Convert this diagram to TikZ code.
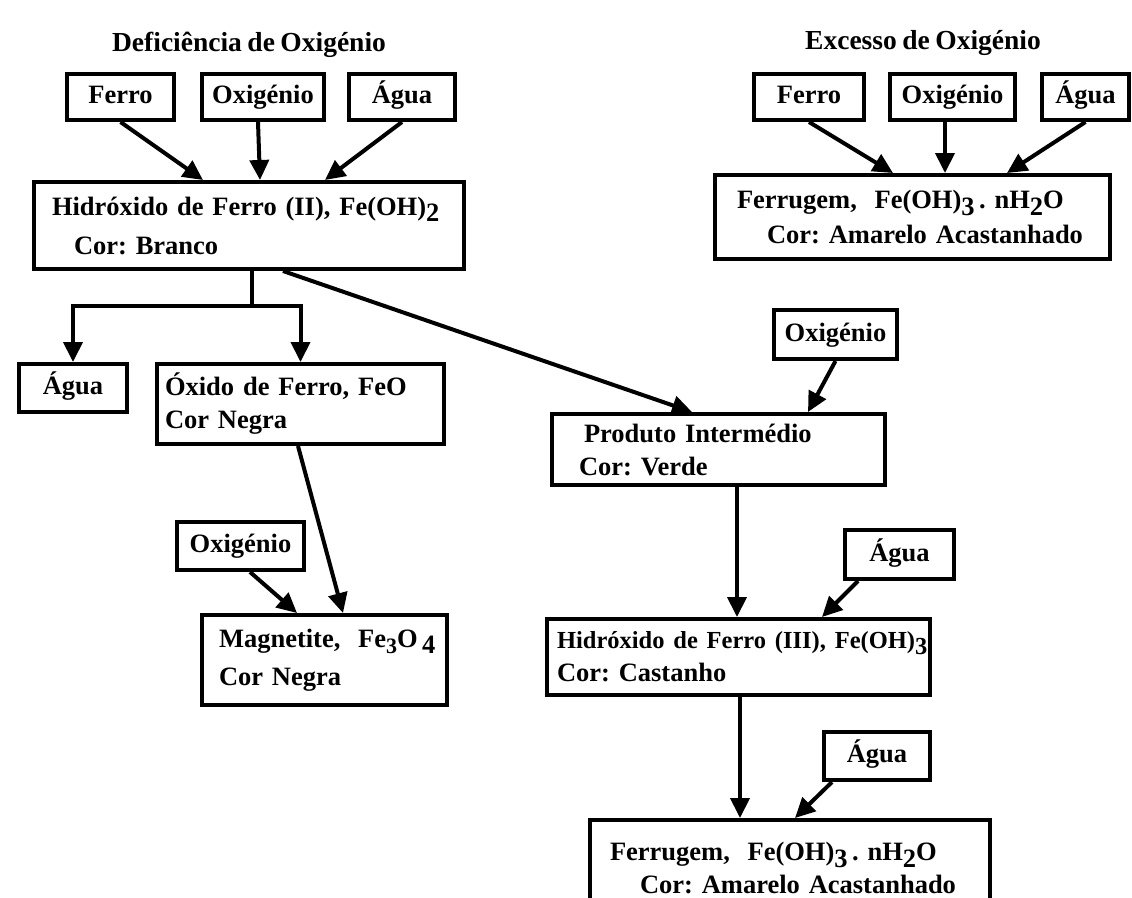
\documentclass[tikz,border=0pt]{standalone}
\usepackage{fontspec}
\setmainfont{Liberation Serif}[WordSpace=0.8]
\usetikzlibrary{arrows.meta}

\newcommand{\lowsub}[1]{\raisebox{-0.25em}{#1}}

\tikzset{
    box/.style={draw, line width=4pt, anchor=north west, align=left, inner ysep=0pt,
        font=\fontsize{26.5}{33}\selectfont\bfseries\frenchspacing},
    inbox/.style={draw, line width=4pt, anchor=north west, inner sep=0pt,
        text height=19pt, text depth=6pt,
        font=\fontsize{26.5}{33}\selectfont\bfseries},
    heading/.style={font=\fontsize{27.5}{33}\selectfont\bfseries},
    flow/.style={line width=4pt, -{Triangle[length=20pt,width=19pt]}},
}

\begin{document}
\begin{tikzpicture}[x=1pt, y=-1pt]
    \useasboundingbox (0,0) rectangle (1132,897);

    % Deficiencia de oxigenio
    \node[heading] (defTitle) at (249,45) {Deficiência de Oxigénio};
    \node[inbox, minimum width=107pt, minimum height=46pt] (feL) at (65,72) {Ferro};
    \node[inbox, minimum width=122pt, minimum height=46pt] (oxL) at (200,72) {Oxigénio};
    \node[inbox, minimum width=106pt, minimum height=46pt] (agL) at (347,72) {Água};
    \node[box, text width=394pt, inner xsep=18pt, minimum height=87pt] (hydII) at (32,180)
        {\mbox{Hidróxido de Ferro (II),\ Fe(OH)\lowsub{2}}\\[6pt]\hspace{22pt}Cor: Branco};

    \draw[flow] (feL.south) -- ([xshift=171pt]hydII.north west);
    \draw[flow] ([xshift=58pt]oxL.south west) -- ([xshift=228pt]hydII.north west);
    \draw[flow] (agL.south) -- ([xshift=293pt]hydII.north west);

    % Excesso de oxigenio
    \node[heading] (excTitle) at (923,43) {Excesso de Oxigénio};
    \node[inbox, minimum width=110pt, minimum height=46pt] (feR) at (752,72) {Ferro};
    \node[inbox, minimum width=125pt, minimum height=46pt] (oxR) at (888,72) {Oxigénio};
    \node[inbox, minimum width=87pt, minimum height=46pt] (agR) at (1040,72) {Água};
    \node[box, text width=351pt, inner xsep=22pt, minimum height=84pt] (rustTop) at (713,173)
        {\mbox{Ferrugem,\ \ Fe(OH)\lowsub{3}\,.\ nH\lowsub{2}O}\\[2pt]\hspace{30pt}Cor: Amarelo Acastanhado};

    \draw[flow] (feR.south) -- ([xshift=180pt]rustTop.north west);
    \draw[flow] ([xshift=57pt]oxR.south west) -- ([xshift=232pt]rustTop.north west);
    \draw[flow] (agR.south) -- ([xshift=294pt]rustTop.north west);

    % Ramo da esquerda
    \node[inbox, minimum width=108pt, minimum height=48pt] (agSplit) at (17,362) {Água};
    \node[box, text width=271pt, inner xsep=8pt, minimum height=80pt] (feo) at (155,362)
        {Óxido de Ferro, FeO\\Cor Negra};
    \draw[line width=4pt] ([xshift=220pt]hydII.south west) -- ++(0,35) coordinate (split);
    \draw[flow] (split) -| (agSplit.north);
    \draw[flow] (split) -| (feo.north);

    \node[inbox, minimum width=127pt, minimum height=48pt] (oxLow) at (175,520) {Oxigénio};
    \node[box, text width=211pt, inner xsep=17pt, minimum height=90pt] (magn) at (200,613)
        {\mbox{Magnetite,\ \ Fe\lowsub{\fontsize{22}{26}\selectfont 3}O\,\lowsub{4}}\\[5pt]Cor Negra};
    \draw[flow] ([xshift=143pt]feo.south west) -- ([xshift=143pt]magn.north west);
    \draw[flow] ([xshift=75pt]oxLow.south west) -- ([xshift=97pt]magn.north west);

    % Ramo da direita
    \node[inbox, minimum width=123pt, minimum height=49pt] (oxMid) at (772,308) {Oxigénio};
    \node[box, text width=279pt, inner xsep=27pt, minimum height=71pt] (inter) at (550,412)
        {\hspace{5pt}Produto Intermédio\\Cor: Verde};
    \draw[flow] ([xshift=251pt]hydII.south west) -- ([xshift=142pt]inter.north west);
    \draw[flow] (oxMid.south) -- ([xshift=258pt]inter.north west);

    \node[inbox, minimum width=109pt, minimum height=49pt] (agMid) at (843,528) {Água};
    \node[box, text width=363pt, inner xsep=10pt, minimum height=76pt] (hydIII) at (545,617)
        {\mbox{\fontsize{24.5}{33}\selectfont Hidróxido de Ferro (III), Fe(OH)\lowsub{3}}\\Cor: Castanho};
    \draw[flow] ([xshift=187pt]inter.south west) -- ([xshift=192pt]hydIII.north west);
    \draw[flow] ([xshift=15pt]agMid.south west) -- ([xshift=277pt]hydIII.north west);

    \node[inbox, minimum width=106pt, minimum height=48pt] (agLow) at (822,730) {Água};
    \node[box, text width=360pt, inner xsep=20pt, minimum height=96pt] (rustBot) at (588,818)
        {\mbox{Ferrugem,\ \ Fe(OH)\lowsub{3}\,.\ nH\lowsub{2}O}\\\hspace{30pt}Cor: Amarelo Acastanhado};
    \draw[flow] ([xshift=195pt]hydIII.south west) -- ([xshift=152pt]rustBot.north west);
    \draw[flow] ([xshift=10pt]agLow.south west) -- ([xshift=207pt]rustBot.north west);
\end{tikzpicture}
\end{document}
